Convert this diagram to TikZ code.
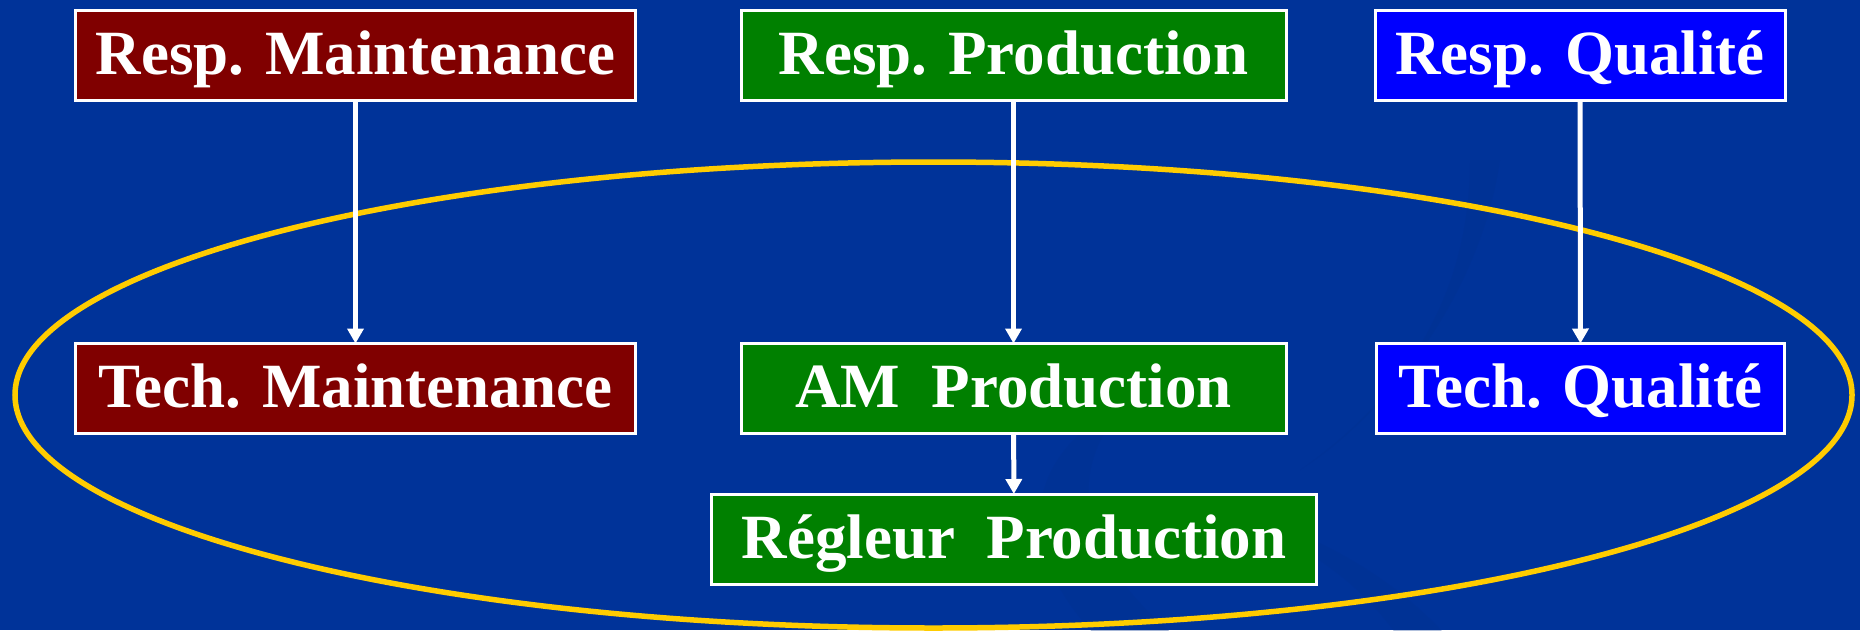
\documentclass[tikz,border=0pt]{standalone}
\usepackage{fontspec}
\setmainfont{Liberation Serif}
\usetikzlibrary{arrows.meta}
\definecolor{slidebg}{HTML}{003399}
\definecolor{swirl}{HTML}{00318F}
\definecolor{maint}{HTML}{800000}
\definecolor{prod}{HTML}{008000}
\definecolor{qual}{HTML}{0000FF}
\definecolor{ring}{HTML}{FFCC00}
\tikzset{
  rolebox/.style={draw=white, line width=3pt, text=white, inner sep=0pt,
    minimum height=90pt, text height=45pt, text depth=7pt,
    font=\fontsize{63}{63}\bfseries\selectfont},
  link/.style={draw=white, line width=5pt,
    -{Triangle[length=15pt,width=16pt]}, shorten >=-1.5pt},
}
\begin{document}
\begin{tikzpicture}[x=1pt,y=-1pt]
  % slide background
  \fill[slidebg] (0,0) rectangle (1860,630);
  \useasboundingbox (0,0) rectangle (1860,630);
  % faint swirls of the slide template
  \fill[swirl, opacity=0.35] (1100,640) .. controls (1020,560) and (1010,460) .. (1130,400)
    .. controls (1060,470) and (1080,560) .. (1180,640) -- cycle;
  \fill[swirl, opacity=0.35] (1500,160) .. controls (1480,300) and (1380,420) .. (1300,470)
    .. controls (1400,400) and (1470,300) .. (1470,160) -- cycle;
  \fill[swirl, opacity=0.3] (1450,640) .. controls (1380,560) and (1280,520) .. (1200,500)
    .. controls (1300,540) and (1360,580) .. (1400,640) -- cycle;
  % gold ring round the field teams
  \draw[ring, line width=5.5pt] (933.5,395) ellipse [x radius=918.5pt, y radius=233pt];
  % managers
  \node[rolebox, fill=maint, minimum width=560pt] (rm) at (355.5,55) {Resp. Maintenance};
  \node[rolebox, fill=prod, minimum width=545pt] (rp) at (1013.5,55) {Resp. Production};
  \node[rolebox, fill=qual, minimum width=410pt] (rq) at (1580,55) {Resp. Qualité};
  % field teams
  \node[rolebox, fill=maint, minimum width=560pt] (tm) at (355.5,388.5) {Tech. Maintenance};
  \node[rolebox, fill=prod, minimum width=545pt] (am) at (1013.5,388.5) {AM\hspace{0.5em}Production};
  \node[rolebox, fill=qual, minimum width=408pt] (tq) at (1580.5,388.5) {Tech. Qualité};
  \node[rolebox, fill=prod, minimum width=605pt] (rg) at (1014,539) {Régleur\hspace{0.5em}Production};
  % reporting lines
  \draw[link] (rm) -- (tm);
  \draw[link] (rp) -- (am);
  \draw[link] (rq) -- (tq);
  \draw[link] (am) -- (rg);
\end{tikzpicture}
\end{document}
